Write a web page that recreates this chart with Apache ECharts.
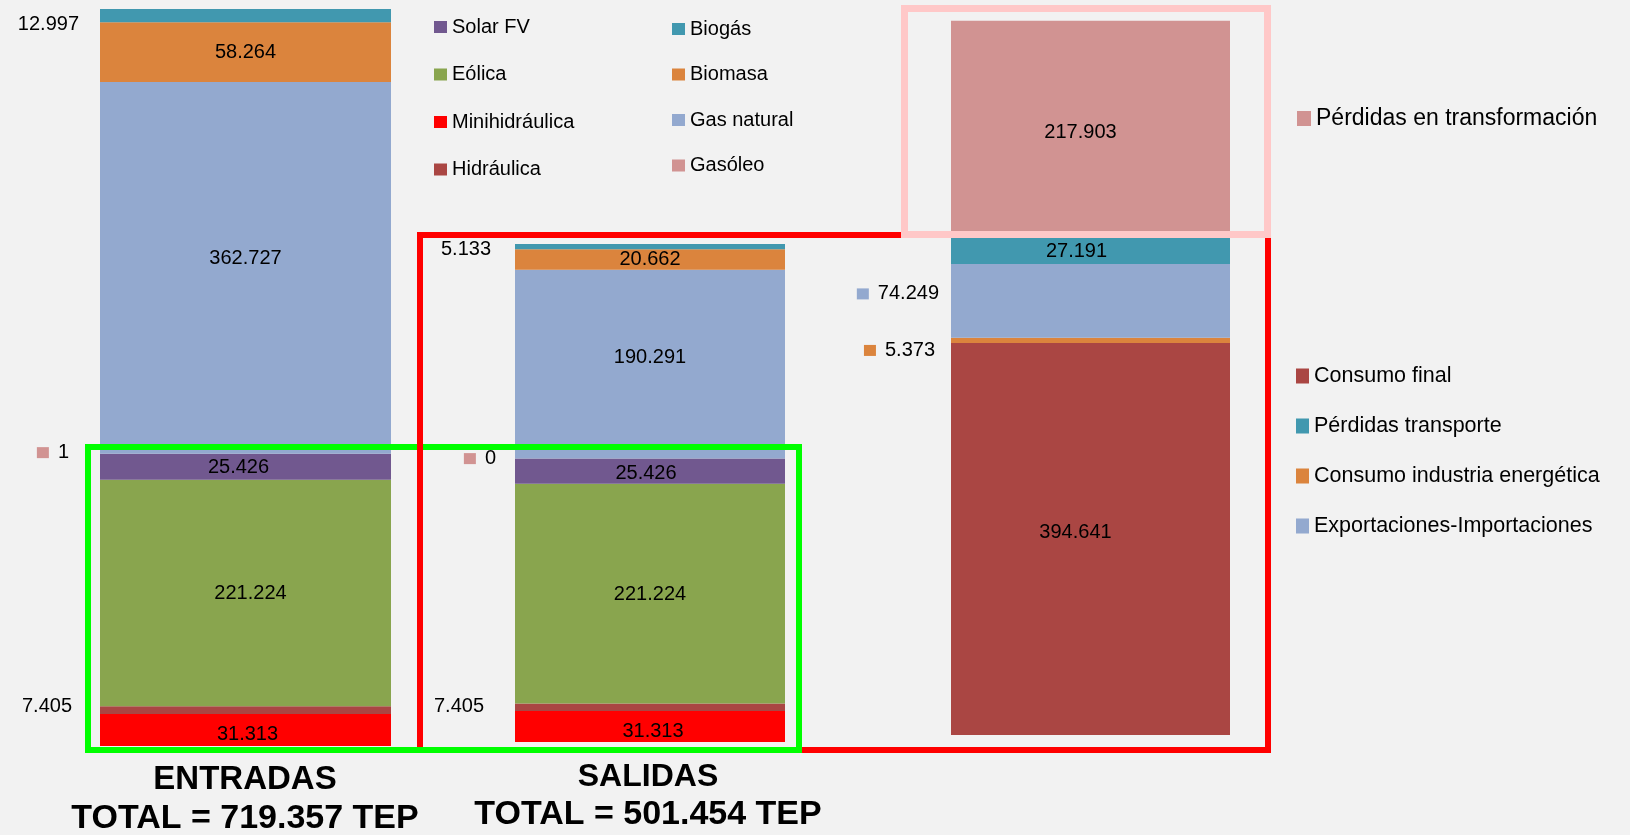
<!DOCTYPE html>
<html>
<head>
<meta charset="utf-8">
<script src="https://cdn.jsdelivr.net/npm/echarts@6/dist/echarts.min.js"></script>
<style>
html,body{margin:0;padding:0;background:#f2f2f2;}
#c{width:1630px;height:835px;}
</style>
</head>
<body>
<div id="c"></div>
<script>
// ---------- DATA ----------
const columnas = ['ENTRADAS', 'SALIDAS', 'USOS'];
const fuentes = ['Minihidráulica', 'Hidráulica', 'Eólica', 'Solar FV', 'Gasóleo', 'Gas natural', 'Biomasa', 'Biogás'];
const entradas = [31313, 7405, 221224, 25426, 1, 362727, 58264, 12997];
const salidas  = [31313, 7405, 221224, 25426, 0, 190291, 20662, 5133];
const usosCategorias = ['Consumo final', 'Consumo industria energética', 'Exportaciones-Importaciones', 'Pérdidas transporte', 'Pérdidas en transformación'];
const usos = [394641, 5373, 74249, 27191, 217903];
const leyendaIzq = ['Solar FV', 'Eólica', 'Minihidráulica', 'Hidráulica'];
const leyendaDer = ['Biogás', 'Biomasa', 'Gas natural', 'Gasóleo'];
const leyendaUsos1 = ['Pérdidas en transformación'];
const leyendaUsos2 = ['Consumo final', 'Pérdidas transporte', 'Consumo industria energética', 'Exportaciones-Importaciones'];
const titulos = ['ENTRADAS', 'TOTAL = 719.357 TEP', 'SALIDAS', 'TOTAL = 501.454 TEP'];

// ---------- STYLE ----------
const FONT = '"Liberation Sans", Arial, sans-serif';
const colores = {
  'Minihidráulica': '#ff0000', 'Hidráulica': '#aa4643', 'Eólica': '#89a54e', 'Solar FV': '#71588f',
  'Gasóleo': '#d19392', 'Gas natural': '#93a9cf', 'Biomasa': '#db843d', 'Biogás': '#4198af',
  'Consumo final': '#aa4643', 'Consumo industria energética': '#db843d', 'Exportaciones-Importaciones': '#93a9cf',
  'Pérdidas transporte': '#4198af', 'Pérdidas en transformación': '#d19392'
};
const fmt = v => String(v).replace(/\B(?=(\d{3})+(?!\d))/g, '.');
const sum = a => a.reduce((s, v) => s + v, 0);

const specs0 = {
  'Biogás': {pos: 'left', dist: 21, off: [0, 9]},
  'Biomasa': {off: [0, 0]},
  'Gas natural': {off: [0, -9]},
  'Gasóleo': {pos: 'left', dist: 31, off: [0, -1], sq: true},
  'Solar FV': {off: [-7, 1]},
  'Eólica': {off: [5, 0]},
  'Hidráulica': {pos: 'left', dist: 28, off: [0, -4]},
  'Minihidráulica': {off: [2, 5]}
};
const specs1 = {
  'Biogás': {pos: 'left', dist: 24, off: [0, 3]},
  'Biomasa': {off: [0, 0]},
  'Gas natural': {off: [0, -7]},
  'Gasóleo': {pos: 'left', dist: 19, off: [0, 0], sq: true},
  'Solar FV': {off: [-4, 2]},
  'Eólica': {off: [0, 1]},
  'Hidráulica': {pos: 'left', dist: 31, off: [0, -1]},
  'Minihidráulica': {off: [3, 5]}
};
const specs2 = {
  'Consumo final': {off: [-15, -7]},
  'Consumo industria energética': {pos: 'left', dist: 16, off: [0, 10], sq: true},
  'Exportaciones-Importaciones': {pos: 'left', dist: 12, off: [0, -7], sq: true},
  'Pérdidas transporte': {off: [-14, 1]},
  'Pérdidas en transformación': {off: [-10, 4]}
};

function makeSeries(names, values, idx, specs) {
  return names.map((n, i) => {
    const s = specs[n] || {};
    const label = {
      show: true, color: '#000', fontSize: 20, fontFamily: FONT,
      position: s.pos || 'inside', distance: s.dist || 5, offset: s.off || [0, 0]
    };
    if (s.sq) {
      label.formatter = p => '{sq|}{t|' + fmt(p.value) + '}';
      label.rich = {
        sq: {width: 12, height: 11, backgroundColor: colores[n]},
        t: {padding: [0, 0, 0, 9], fontSize: 20, color: '#000', fontFamily: FONT}
      };
    } else {
      label.formatter = p => fmt(p.value);
    }
    return {
      name: n, type: 'bar', stack: 's' + idx, xAxisIndex: idx, yAxisIndex: idx,
      data: [values[i]], barWidth: '100%', barCategoryGap: '0%',
      itemStyle: {color: colores[n]}, label: label, emphasis: {disabled: true}
    };
  });
}

const hiddenAxis = {show: false, axisLine: {show: false}, axisTick: {show: false}, axisLabel: {show: false}, splitLine: {show: false}};

const legendBase = {
  orient: 'vertical', icon: 'rect', selectedMode: false, padding: 0,
  textStyle: {color: '#000', fontFamily: FONT, fontSize: 20}
};

const option = {
  backgroundColor: '#f2f2f2',
  animation: false,
  grid: [
    {left: 100, top: 9, width: 291, height: 737},
    {left: 515, top: 27, width: 270, height: 715},
    {left: 951, top: 20, width: 279, height: 715}
  ],
  xAxis: [0, 1, 2].map(i => Object.assign({type: 'category', gridIndex: i, data: [columnas[i]]}, hiddenAxis)),
  yAxis: [
    Object.assign({type: 'value', gridIndex: 0, min: 0, max: sum(entradas)}, hiddenAxis),
    Object.assign({type: 'value', gridIndex: 1, min: 0, max: 720000}, hiddenAxis),
    Object.assign({type: 'value', gridIndex: 2, min: 0, max: 720000}, hiddenAxis)
  ],
  legend: [
    Object.assign({}, legendBase, {data: leyendaIzq, left: 434, top: 17, itemWidth: 13, itemHeight: 12, itemGap: 27.5, itemTextGap: 5}),
    Object.assign({}, legendBase, {data: leyendaDer, left: 672, top: 19, itemWidth: 13, itemHeight: 12, itemGap: 25.5, itemTextGap: 5}),
    Object.assign({}, legendBase, {data: leyendaUsos1, left: 1297, top: 107, itemWidth: 14, itemHeight: 15, itemTextGap: 4,
      textStyle: {color: '#000', fontFamily: FONT, fontSize: 23}}),
    Object.assign({}, legendBase, {data: leyendaUsos2, left: 1296, top: 365, itemWidth: 13, itemHeight: 15, itemGap: 28, itemTextGap: 4,
      textStyle: {color: '#000', fontFamily: FONT, fontSize: 21.5}})
  ],
  series: [].concat(
    makeSeries(fuentes, entradas, 0, specs0),
    makeSeries(fuentes, salidas, 1, specs1),
    makeSeries(usosCategorias, usos, 2, specs2)
  ),
  graphic: [
    {type: 'rect', z: 100, shape: {x: 420, y: 235, width: 848, height: 515}, style: {fill: 'none', stroke: '#ff0000', lineWidth: 6}},
    {type: 'rect', z: 101, shape: {x: 88, y: 447, width: 711, height: 303}, style: {fill: 'none', stroke: '#00ff00', lineWidth: 6}},
    {type: 'line', z: 102, shape: {x1: 420, y1: 232, x2: 420, y2: 747}, style: {stroke: '#ff0000', lineWidth: 6}},
    {type: 'rect', z: 103, shape: {x: 904.5, y: 8.5, width: 363, height: 226}, style: {fill: 'none', stroke: '#ffc8c8', lineWidth: 7}},
    {type: 'text', z: 110, style: {text: titulos[0], x: 245, y: 780, align: 'center', verticalAlign: 'middle', font: 'bold 33px ' + FONT, fill: '#000'}},
    {type: 'text', z: 110, style: {text: titulos[1], x: 245, y: 819, align: 'center', verticalAlign: 'middle', font: 'bold 34px ' + FONT, fill: '#000'}},
    {type: 'text', z: 110, style: {text: titulos[2], x: 648, y: 777, align: 'center', verticalAlign: 'middle', font: 'bold 32px ' + FONT, fill: '#000'}},
    {type: 'text', z: 110, style: {text: titulos[3], x: 648, y: 815, align: 'center', verticalAlign: 'middle', font: 'bold 34px ' + FONT, fill: '#000'}}
  ]
};

const chart = echarts.init(document.getElementById('c'), null, {renderer: 'canvas'});
chart.setOption(option);
</script>
</body>
</html>
